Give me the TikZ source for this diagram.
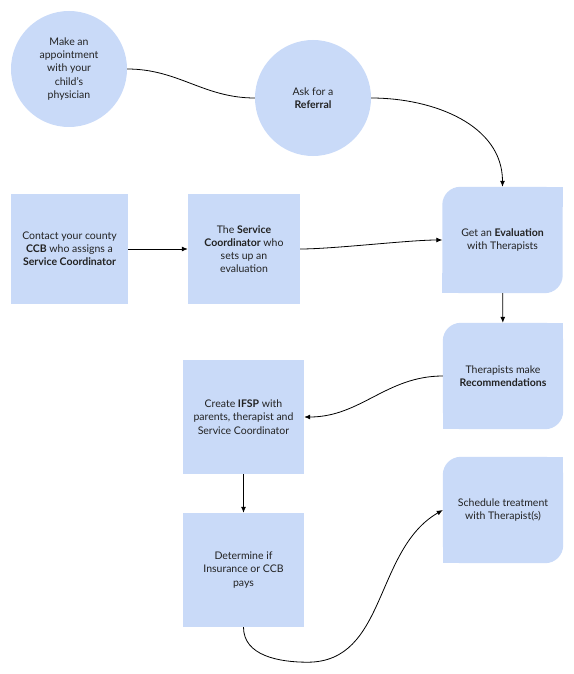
\documentclass[tikz,border=0pt]{standalone}
\usepackage{fontspec}
\setmainfont{Lato}
\usetikzlibrary{arrows.meta,backgrounds}
\definecolor{boxblue}{HTML}{C9DAF8}
\definecolor{txtgray}{HTML}{222222}
\begin{document}
\begin{tikzpicture}[x=1pt, y=-1pt,
  font=\fontsize{10.5}{13.2}\selectfont, text=txtgray,
  bubble/.style={circle, fill=boxblue, minimum size=116pt, inner sep=0pt, align=center},
  block/.style={rectangle, fill=boxblue, inner sep=0pt, align=center, minimum height=110pt},
  tabbox/.style={rectangle, inner sep=0pt, align=center, minimum width=120pt, minimum height=106pt},
  link/.style={draw, line width=0.8pt},
  line/.style={link, -{Latex[length=6pt,width=5pt]}}
]
    \useasboundingbox (0,0) rectangle (573,674);

    \node [bubble] (appt) at (69,69) {Make an\\appointment\\with your\\child’s\\physician};
    \node [bubble] (referral) at (313,98) {Ask for a\\\textbf{Referral}};

    \node [block, minimum width=117pt] (ccb) at (69.5,249) {Contact your county\\\textbf{CCB} who assigns a\\\textbf{Service Coordinator}};
    \node [block, minimum width=112pt] (coord) at (244,249) {The \textbf{Service}\\\textbf{Coordinator} who\\sets up an\\evaluation};
    \node [tabbox] (eval) at (502.5,240) {Get an \textbf{Evaluation}\\with Therapists};
    \node [tabbox] (recomm) at (503,376) {Therapists make\\\textbf{Recommendations}};
    \node [block, minimum width=121pt, minimum height=114pt] (ifsp) at (243.5,417) {Create \textbf{IFSP} with\\parents, therapist and\\Service Coordinator};
    \node [block, minimum width=121pt, minimum height=114pt] (pays) at (243.5,570) {Determine if\\Insurance or CCB\\pays};
    \node [tabbox] (sched) at (503,510) {Schedule treatment\\with Therapist(s)};

    % tab shaped boxes: two rounded corners
    \begin{scope}[on background layer]
      \foreach \n in {eval,recomm,sched} {
        \fill [boxblue, rounded corners=18pt] (\n.south west) rectangle (\n.north east);
        \fill [boxblue] (\n.north east) rectangle ++(-20,20);
        \fill [boxblue] (\n.south west) rectangle ++(20,-20);
      }
    \end{scope}

    \path [link] (appt.east) to[out=0, in=180] (referral.west);
    \path [line] (referral.east) to[out=0, in=90] (eval.north);
    \path [line] (ccb) -- (coord);
    \path [line] (coord.east) to[out=0, in=180, looseness=0.6] (eval.west);
    \path [line] (eval) -- (recomm);
    \path [line] (recomm.west) to[out=180, in=0] (ifsp.east);
    \path [line] (ifsp) -- (pays);
    \path [line] (pays.south) to[out=-90, in=180] ++(64,35) to[out=0, in=210] (sched.west);
\end{tikzpicture}
\end{document}
